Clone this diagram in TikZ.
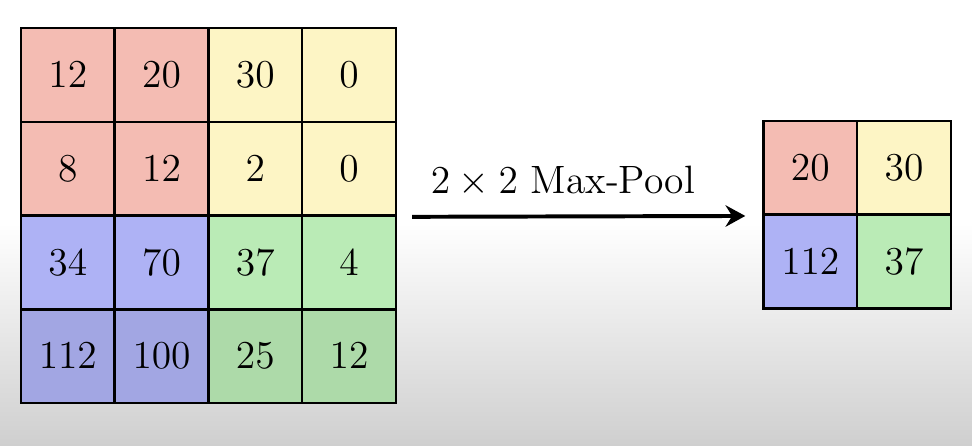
\documentclass[tikz,border=0pt]{standalone}
\usepackage{tikz}
\usetikzlibrary{positioning,calc,arrows.meta}

\definecolor{poolred}{RGB}{244,188,179}
\definecolor{poolyellow}{RGB}{253,245,197}
\definecolor{poolblue}{RGB}{178,182,250}
\definecolor{poolgreen}{RGB}{190,240,186}
\definecolor{bggray}{RGB}{207,207,207}
\pgfdeclareverticalshading{screenfade}{100bp}{color(0bp)=(bggray); color(25bp)=(bggray); color(50bp)=(white); color(100bp)=(white)}

\begin{document}
\begin{tikzpicture}
        % Style for one cell of a grid
        \tikzstyle{cell}=[draw=black, line width=0.75pt, minimum size=1cm, inner sep=0pt, anchor=north west, font=\fontsize{13}{15}\selectfont];
        \tikzstyle{pool arrow}=[line width=1.2pt, -{Stealth[length=6pt,width=6.5pt,inset=2pt]}, shorten <=0.16cm, shorten >=0.18cm];

        % Background, fading to gray at the bottom
        \shade[shading=screenfade] (0,0) rectangle (10.368,4.757);
        \useasboundingbox (0,0) rectangle (10.368,4.757);

        % Input grid (4 x 4)
        \coordinate (in) at (0.21,4.47);
        \foreach \r/\tone/\row in {1/100/{12/poolred,20/poolred,30/poolyellow,0/poolyellow},
                                   2/100/{8/poolred,12/poolred,2/poolyellow,0/poolyellow},
                                   3/98/{34/poolblue,70/poolblue,37/poolgreen,4/poolgreen},
                                   4/91/{112/poolblue,100/poolblue,25/poolgreen,12/poolgreen}}
            \foreach \v/\col [count=\c] in \row
                \node[cell, fill=\col!\tone!black] (in-\r-\c) at ($(in)+(\c-1,1-\r)$) {$\v$};

        % Output grid (2 x 2)
        \coordinate (out) at (8.13,3.48);
        \foreach \r/\tone/\row in {1/100/{20/poolred,30/poolyellow},
                                   2/98/{112/poolblue,37/poolgreen}}
            \foreach \v/\col [count=\c] in \row
                \node[cell, fill=\col!\tone!black] (out-\r-\c) at ($(out)+(\c-1,1-\r)$) {$\v$};

        % Arrow with its label
        \draw[pool arrow] (in-2-4.south east) -- (out-1-1.south west)
            node[midway, anchor=base, yshift=0.24cm, xshift=-0.18cm, font=\large] {$2\times 2$ Max-Pool};

    \end{tikzpicture}
\end{document}
